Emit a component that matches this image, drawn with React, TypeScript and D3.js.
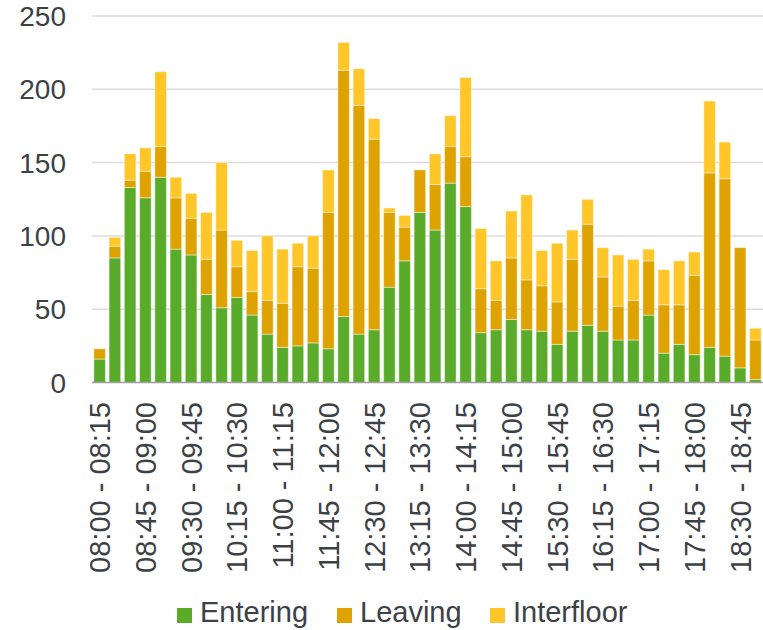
import React from "react";
import * as d3 from "d3";

const entering = [16, 85, 133, 126, 140, 91, 87, 60, 51, 58, 46, 33, 24, 25, 27, 23, 45, 33, 36, 65, 83, 116, 104, 136, 120, 34, 36, 43, 36, 35, 26, 35, 39, 35, 29, 29, 46, 20, 26, 19, 24, 18, 10, 2];
const leaving = [7, 8, 5, 18, 21, 35, 25, 24, 53, 21, 16, 23, 30, 54, 51, 93, 168, 156, 130, 51, 23, 29, 31, 25, 34, 30, 20, 42, 34, 31, 29, 49, 69, 37, 23, 27, 37, 33, 27, 54, 119, 121, 82, 27];
const interfloor = [0, 6, 18, 16, 51, 14, 17, 32, 46, 18, 28, 44, 37, 16, 22, 29, 19, 25, 14, 3, 8, 0, 21, 21, 54, 41, 27, 32, 58, 24, 40, 20, 17, 20, 35, 28, 8, 24, 30, 16, 49, 25, 0, 8];
const yTicks = [0, 50, 100, 150, 200, 250];
const seriesNames = ["Entering", "Leaving", "Interfloor"];
const seriesColors = ["#5aab2a", "#dea300", "#ffc629"];

function fmt(m: number) {
  const h = Math.floor(m / 60);
  const mm = m % 60;
  return `${String(h).padStart(2, "0")}:${String(mm).padStart(2, "0")}`;
}
const categories = entering.map((_, i) => `${fmt(480 + i * 15)} - ${fmt(495 + i * 15)}`);

const W = 763, H = 630;
const left = 92, right = 763, top = 16, bottom = 382.5;
const font = "'Liberation Sans', Arial, sans-serif";
const textColor = "#3c4146";

export default function App() {
  const x = d3.scaleBand<string>().domain(categories).range([left, right]).paddingInner(0.24).paddingOuter(0.12);
  const y = d3.scaleLinear().domain([0, 250]).range([bottom, top]);
  const rows = categories.map((c, i) => ({ c, Entering: entering[i], Leaving: leaving[i], Interfloor: interfloor[i] }));
  const stack = d3.stack<any>().keys(seriesNames)(rows);

  const legendX = [177, 337, 490];

  return (
    <svg width={W} height={H} style={{ position: "absolute", left: 0, top: 0, background: "#fff" }} fontFamily={font}>
      {yTicks.map((t) => (
        <g key={t}>
          {t > 0 && <line x1={left} x2={right} y1={y(t)} y2={y(t)} stroke="#dcdcdc" strokeWidth={1.5} />}
          <text x={66} y={y(t)} dy="0.36em" textAnchor="end" fontSize={28} fill={textColor}>{t}</text>
        </g>
      ))}
      {stack.map((s, si) => (
        <g key={si} fill={seriesColors[si]}>
          {s.map((d, i) => {
            const h = y(d[0]) - y(d[1]);
            if (h <= 0) return null;
            return (
              <rect key={i} x={x(categories[i])} width={x.bandwidth()} y={y(d[1])} height={h}
                stroke="#ffffff" strokeOpacity={0.45} strokeWidth={1} />
            );
          })}
        </g>
      ))}
      <line x1={left} x2={right} y1={bottom} y2={bottom} stroke="#a0a0a0" strokeWidth={1.5} />
      {categories.map((c, i) => i % 3 === 0 ? (
        <text key={c} transform={`translate(${x(c)! + x.bandwidth() / 2},402) rotate(-90)`} textAnchor="end" dy="0.36em" fontSize={29} fill={textColor}>{c}</text>
      ) : null)}
      {seriesNames.map((n, i) => (
        <g key={n}>
          <rect x={legendX[i]} y={608} width={15} height={15} fill={seriesColors[i]} />
          <text x={legendX[i] + 23} y={622} fontSize={29} fill={textColor}>{n}</text>
        </g>
      ))}
    </svg>
  );
}
